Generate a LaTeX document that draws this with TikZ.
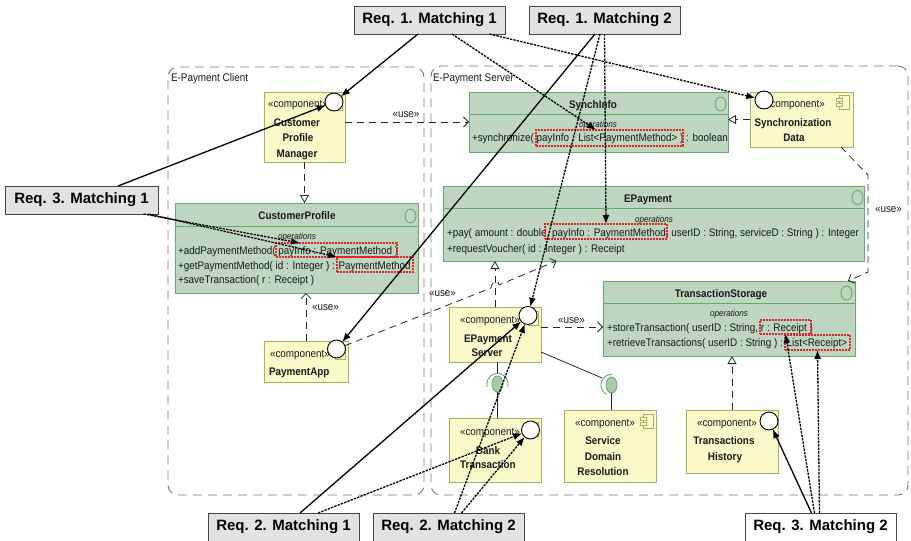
\documentclass[tikz,border=0pt]{standalone}
\usepackage{fontspec}
\setmainfont{Liberation Sans}[FakeStretch=0.9]
\newfontfamily\reqfont{Liberation Sans}
\usetikzlibrary{arrows.meta,shapes.geometric}

\definecolor{clsfill}{RGB}{190,214,192}
\definecolor{clsline}{RGB}{104,168,108}
\definecolor{cmpfill}{RGB}{250,249,202}
\definecolor{cmpline}{RGB}{176,172,98}
\definecolor{reqfill}{RGB}{226,226,226}
\definecolor{reqline}{RGB}{70,70,70}
\definecolor{framegray}{RGB}{120,120,120}
\definecolor{markred}{RGB}{228,36,40}
\definecolor{ballfill}{RGB}{168,202,170}
\definecolor{txtgray}{RGB}{25,25,25}

% small UML component glyph: #1 = right x, #2 = top y of the component box
\newcommand\cmpglyph[2]{%
  \draw[cmpline, fill=cmpfill, line width=0.7pt] (#1-13,#2+4) rectangle (#1-3,#2+18);
  \draw[cmpline, fill=cmpfill, line width=0.7pt] (#1-16,#2+7) rectangle (#1-10,#2+10);
  \draw[cmpline, fill=cmpfill, line width=0.7pt] (#1-16,#2+12) rectangle (#1-10,#2+15);
}

\begin{document}
\begin{tikzpicture}[x=1pt,y=-1pt,
  every node/.style={inner sep=0pt, outer sep=0pt},
  txt/.style={font=\fontsize{11}{13}\selectfont, text=txtgray},
  btxt/.style={font=\fontsize{11}{13}\selectfont\bfseries, text=black!90},
  optxt/.style={font=\fontsize{9}{11}\selectfont\itshape, text=txtgray},
  container/.style={draw=framegray, line width=0.9pt, dash pattern=on 9pt off 6pt, rounded corners=10pt, anchor=north west},
  clsbox/.style={draw=clsline, fill=clsfill, line width=0.9pt, anchor=north west},
  cmpbox/.style={draw=cmpline, fill=cmpfill, line width=0.9pt, anchor=north west},
  reqbox/.style={draw=reqline, fill=reqfill, line width=0.9pt, anchor=north west,
     minimum width=151pt, minimum height=28pt, font=\reqfont\fontsize{15}{17}\selectfont\bfseries},
  redbox/.style={draw=markred, line width=1.1pt, dash pattern=on 2pt off 1pt, anchor=north west},
  ball/.style={circle, draw=black, fill=white, line width=0.9pt, minimum size=18pt},
  sockball/.style={ellipse, draw=clsline, fill=ballfill, line width=0.8pt, minimum width=11pt, minimum height=16pt},
  clsicon/.style={draw=clsline, line width=0.9pt},
  req/.style={line width=1.3pt, black, -{Latex[length=9pt,width=7pt]}},
  reqdot/.style={req, dash pattern=on 2.4pt off 1.1pt},
  dep/.style={line width=0.8pt, black!85, dash pattern=on 7pt off 5pt, -{Straight Barb[length=5pt,width=10pt]}},
  real/.style={line width=0.8pt, black!85, dash pattern=on 7pt off 5pt, -{Triangle[length=8pt,width=9pt,fill=white]}},
  plainline/.style={line width=0.8pt, black!85},
]
\useasboundingbox (0,0) rectangle (911,541);

% ---------- packages ----------
\node[container, minimum width=256pt, minimum height=428pt] (client) at (168,67) {};
\node[txt, anchor=base west] (clientlbl) at (171,81) {E-Payment Client};
\node[container, minimum width=477pt, minimum height=429pt] (server) at (431,66) {};
\node[txt, anchor=base west] (serverlbl) at (433,81) {E-Payment Server};

% ---------- interfaces ----------
% SynchInfo
\node[clsbox, minimum width=259pt, minimum height=60pt] (synch) at (469,92) {};
\draw[clsline, line width=0.9pt] ([yshift=-22pt]synch.north west) -- ([yshift=-22pt]synch.north east);
\draw[clsicon] (720.5,104) ellipse (5.5 and 7);
\node[btxt, anchor=base] (synch-t) at (593,108) {SynchInfo};
\node[optxt, anchor=base] (synch-o) at (598,127) {operations};
\node[txt, anchor=base west] (synch-1) at (472,141) {+synchronize( payInfo : List<PaymentMethod> ) : boolean};
\node[redbox, minimum width=147pt, minimum height=16pt] (rsync) at (536,130) {};

% CustomerProfile
\node[clsbox, minimum width=243pt, minimum height=90pt] (cprof) at (175,203) {};
\draw[clsline, line width=0.9pt] ([yshift=-23pt]cprof.north west) -- ([yshift=-23pt]cprof.north east);
\draw[clsicon] (410.5,216) ellipse (5.5 and 7);
\node[btxt, anchor=base] (cprof-t) at (297,219) {CustomerProfile};
\node[optxt, anchor=base] (cprof-o) at (297,239) {operations};
\node[txt, anchor=base west] (cprof-1) at (178,254) {+addPaymentMethod( payInfo : PaymentMethod )};
\node[txt, anchor=base west] (cprof-2) at (178,269) {+getPaymentMethod( id : Integer ) : PaymentMethod};
\node[txt, anchor=base west] (cprof-3) at (178,283) {+saveTransaction( r : Receipt )};
\node[redbox, minimum width=121pt, minimum height=14pt] (rcp1) at (276,243) {};
\node[redbox, minimum width=76pt, minimum height=15pt] (rcp2) at (337,257) {};

% EPayment
\node[clsbox, minimum width=421pt, minimum height=75pt] (epay) at (443,186) {};
\draw[clsline, line width=0.9pt] ([yshift=-22pt]epay.north west) -- ([yshift=-22pt]epay.north east);
\draw[clsicon] (857.5,197.5) ellipse (5.5 and 7);
\node[btxt, anchor=base] (epay-t) at (648,202) {EPayment};
\node[optxt, anchor=base] (epay-o) at (654,222) {operations};
\node[txt, anchor=base west] (epay-1) at (447,236) {+pay( amount : double, payInfo : PaymentMethod, userID : String, serviceD : String ) : Integer};
\node[txt, anchor=base west] (epay-2) at (447,252) {+requestVoucher( id : Integer ) : Receipt};
\node[redbox, minimum width=122pt, minimum height=15pt] (repay) at (545,224) {};

% TransactionStorage
\node[clsbox, minimum width=252pt, minimum height=75pt] (ts) at (603,281) {};
\draw[clsline, line width=0.9pt] ([yshift=-22pt]ts.north west) -- ([yshift=-22pt]ts.north east);
\draw[clsicon] (846.5,293) ellipse (5.5 and 7);
\node[btxt, anchor=base] (ts-t) at (721,297) {TransactionStorage};
\node[optxt, anchor=base] (ts-o) at (729,316) {operations};
\node[txt, anchor=base west] (ts-1) at (607,331) {+storeTransaction( userID : String, r : Receipt )};
\node[txt, anchor=base west] (ts-2) at (607,346) {+retrieveTransactions( userID : String ) : List<Receipt>};
\node[redbox, minimum width=51pt, minimum height=14pt] (rts1) at (760,320) {};
\node[redbox, minimum width=65pt, minimum height=15pt] (rts2) at (785,335) {};

% ---------- components ----------
\node[cmpbox, minimum width=81pt, minimum height=70pt] (cpm) at (264,92) {};
\cmpglyph{345}{92}
\node[txt, anchor=base west] (cpm-s) at (268,107) {«component»};
\node[btxt, anchor=base] (cpm-1) at (297,126) {Customer};
\node[btxt, anchor=base] (cpm-2) at (298,141) {Profile};
\node[btxt, anchor=base] (cpm-3) at (297,157) {Manager};
\node[ball] (cpmball) at (334,102) {};

\node[cmpbox, minimum width=84pt, minimum height=41pt] (pa) at (264,341) {};
\cmpglyph{348}{341}
\node[txt, anchor=base west] (pa-s) at (270,357) {«component»};
\node[btxt, anchor=base west] (pa-1) at (269,375) {PaymentApp};
\node[ball] (paball) at (336.5,349) {};

\node[cmpbox, minimum width=92pt, minimum height=55pt] (eps) at (449,307) {};
\cmpglyph{541}{307}
\node[txt, anchor=base west] (eps-s) at (460,323) {«component»};
\node[btxt, anchor=base] (eps-1) at (488,342) {EPayment};
\node[btxt, anchor=base] (eps-2) at (487,356) {Server};
\node[ball] (epsball) at (528,315.5) {};

\node[cmpbox, minimum width=92pt, minimum height=64pt] (bt) at (449,418) {};
\cmpglyph{541}{418}
\node[txt, anchor=base west] (bt-s) at (460,435) {«component»};
\node[btxt, anchor=base] (bt-1) at (488,454) {Bank};
\node[btxt, anchor=base] (bt-2) at (488,468) {Transaction};
\node[ball] (btball) at (530.5,430) {};

\node[cmpbox, minimum width=92pt, minimum height=72pt] (sdr) at (564,410) {};
\cmpglyph{656}{410}
\node[txt, anchor=base west] (sdr-s) at (575,426) {«component»};
\node[btxt, anchor=base] (sdr-1) at (603,444) {Service};
\node[btxt, anchor=base] (sdr-2) at (603,460) {Domain};
\node[btxt, anchor=base] (sdr-3) at (603,475) {Resolution};

\node[cmpbox, minimum width=92pt, minimum height=63pt] (th) at (686,410) {};
\node[txt, anchor=base west] (th-s) at (697,426) {«component»};
\node[btxt, anchor=base] (th-1) at (724,444) {Transactions};
\node[btxt, anchor=base] (th-2) at (725,460) {History};
\node[ball] (thball) at (769,421) {};

\node[cmpbox, minimum width=103pt, minimum height=55pt] (sd) at (750,92) {};
\cmpglyph{852}{91}
\node[txt, anchor=base west] (sd-s) at (765,107) {«component»};
\node[btxt, anchor=base] (sd-1) at (793,126) {Synchronization};
\node[btxt, anchor=base] (sd-2) at (794,141) {Data};
\node[ball] (sdball) at (764,100) {};

% ---------- assembly connectors (ball and socket) ----------
\node[sockball] (sk1) at (497.5,384) {};
\draw[clsline, line width=0.9pt] plot[domain=-15:195, samples=30] ({497.5+10.5*cos(\x)},{384-10.5*sin(\x)});
\draw[plainline] (sk1 |- eps.south) -- ++(0,11);
\draw[plainline] (sk1.south) -- (sk1.south |- bt.north);

\node[sockball] (sk2) at (611.5,385) {};
\draw[clsline, line width=0.9pt] plot[domain=85:245, samples=30] ({611.5+10.5*cos(\x)},{385-10.5*sin(\x)});
\coordinate (sk2in) at (602,378);
\draw[plainline] ([yshift=-45pt]eps.north east) -- (sk2in);
\draw[plainline] (sk2.south) -- (sk2.south |- sdr.north);

% ---------- dependencies and realizations ----------
\draw[dep] (cpm.east |- synch.west) -- (synch.west);
\node[txt, anchor=base] (use1) at (406,117) {«use»};
\draw[real] (cpm.south) -- (cpm.south |- cprof.north);
\draw[dep] (pa.north) -- (pa.north |- cprof.south);
\node[txt, anchor=base west] (use2) at (312,310) {«use»};
\coordinate (hopa) at (491,288);
\coordinate (hopb) at (499,284.9);
\draw[dep] (paball) -- (hopa) .. controls (492,281) and (498,278.5) .. (hopb) -- ([xshift=-97pt]epay.south);
\node[txt, anchor=base west] (use3) at (429,296) {«use»};
\draw[real] (eps.north) -- (eps.north |- epay.south);
\draw[dep] ([yshift=7.5pt]eps.east) -- ([yshift=7.5pt]eps.east -| ts.west);
\node[txt, anchor=base west] (use4) at (558,323) {«use»};
\coordinate (bend1) at (868,175);
\coordinate (bend2) at (868,272);
\draw[dep] ([xshift=-12pt]sd.south east) -- (bend1) -- (bend2) -- ([xshift=-7pt]ts.north east);
\node[txt, anchor=base west] (use5) at (875,212) {«use»};
\draw[real] (sd.west) -- (sd.west -| synch.east);
\draw[real] (th.north) -- (th.north |- ts.south);

% ---------- requirement tags ----------
\node[reqbox] (rm11) at (354,6) {Req. 1. Matching 1};
\node[reqbox] (rm12) at (529,6) {Req. 1. Matching 2};
\node[reqbox, minimum width=153pt] (rm31) at (5,186) {Req. 3. Matching 1};
\node[reqbox] (rm21) at (208,513) {Req. 2. Matching 1};
\node[reqbox] (rm22) at (373,513) {Req. 2. Matching 2};
\node[reqbox, fill=white] (rm32) at (745,513) {Req. 3. Matching 2};

% ---------- trace links ----------
\draw[req] ([xshift=-11.5pt]rm11.south) -- (cpmball);
\draw[reqdot] ([xshift=22.5pt]rm11.south) -- ([xshift=-13.5pt]rsync.north);
\draw[reqdot] ([xshift=60pt]rm11.south) -- (sdball);
\draw[req] ([xshift=-9.5pt]rm12.south) -- (paball);
\draw[reqdot] ([xshift=-4.5pt]rm12.south) -- (epsball);
\draw[reqdot] (rm12.south) -- (repay.north);
\draw[req] ([xshift=36.5pt]rm31.north) -- (cpmball);
\draw[reqdot] ([xshift=62pt]rm31.south) -- ([xshift=-36.5pt]rcp1.north);
\draw[reqdot] ([xshift=67pt]rm31.south) -- (rcp2.north west);
\draw[req] ([xshift=16.5pt]rm21.north) -- (epsball);
\draw[reqdot] ([xshift=34.5pt]rm21.north) -- (btball);
\draw[reqdot] ([xshift=6pt]rm22.north) -- (epsball);
\draw[reqdot] ([xshift=13pt]rm22.north) -- (btball);
\draw[req] ([xshift=-9pt]rm32.north) -- (thball);
\draw[reqdot] ([xshift=-6pt]rm32.north) -- (rts1.south);
\draw[reqdot] ([xshift=-1pt]rm32.north) -- (rts2.south);
\end{tikzpicture}
\end{document}
